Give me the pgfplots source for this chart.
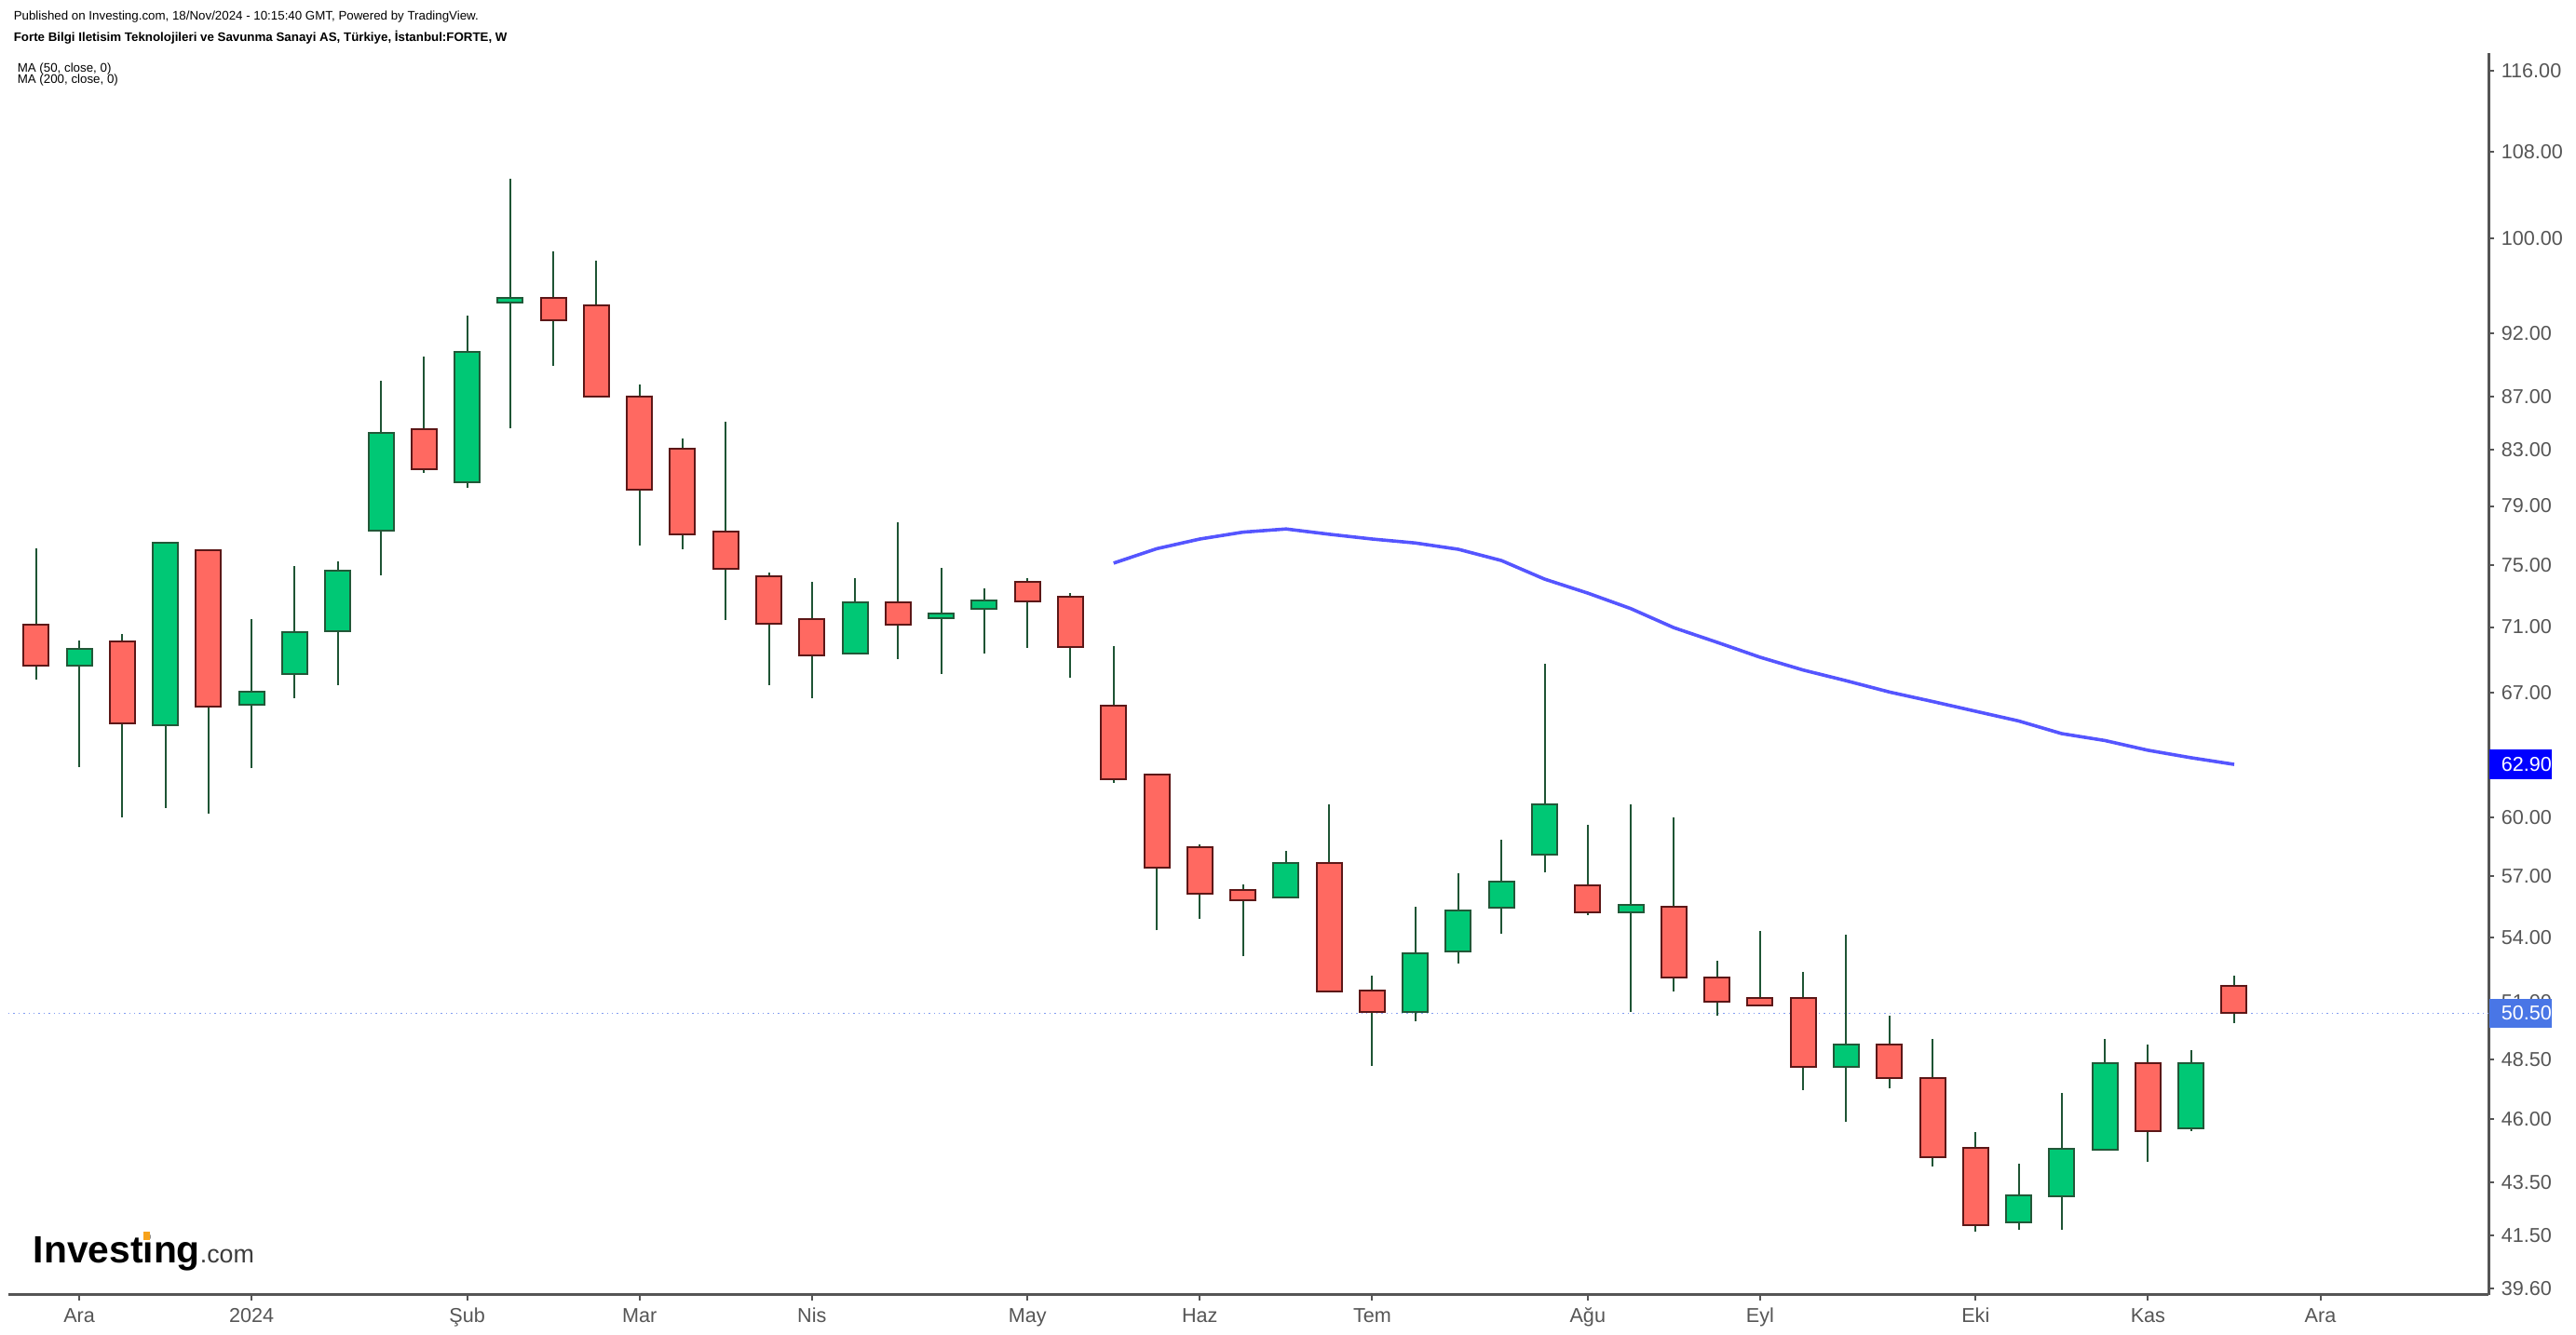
\documentclass[border=0pt]{standalone}
\usepackage{fontspec}
\setmainfont{Liberation Sans}
\usepackage{pgfplots}
\usepackage{pgfplotstable}
\pgfplotsset{compat=1.18}

\definecolor{upfill}{RGB}{0,200,117}
\definecolor{upedge}{RGB}{34,88,56}
\definecolor{downfill}{RGB}{255,105,97}
\definecolor{downedge}{RGB}{92,23,23}
\definecolor{wick}{RGB}{30,84,52}
\definecolor{maline}{RGB}{85,85,255}
\definecolor{axisgray}{RGB}{85,85,85}
\definecolor{lastblue}{RGB}{73,118,230}
\definecolor{mablue}{RGB}{0,0,255}
\definecolor{pline}{RGB}{130,155,240}
\definecolor{logoorange}{RGB}{247,162,27}
\definecolor{logogray}{RGB}{60,60,60}

\newcommand\tickfont{\fontsize{5.4pt}{6pt}\selectfont}
\newcommand\headfont{\fontsize{3.33pt}{4pt}\selectfont}

% weekly candles, FORTE (i = week number, 0 = 27 Nov 2023)
\pgfplotstableread{
i O H L C
0 71.15 76.13 67.79 68.65
1 68.65 70.16 62.77 69.66
2 70.13 70.59 60.03 65.21
3 65.09 76.49 60.53 76.49
4 75.98 75.98 60.23 66.19
5 66.30 71.53 62.67 67.09
6 68.13 74.91 66.69 70.68
7 70.77 75.25 67.48 74.62
8 77.32 88.24 74.31 84.24
9 84.52 90.13 81.33 81.60
10 80.69 93.44 80.25 90.51
11 94.57 105.46 84.59 94.93
12 94.93 98.93 89.42 93.08
13 94.29 98.11 87.00 87.00
14 87.03 87.94 76.29 80.15
15 83.12 83.86 76.04 77.07
16 77.23 85.08 71.45 74.72
17 74.25 74.53 67.48 71.24
18 71.51 73.91 66.69 69.27
19 69.39 74.15 69.39 72.56
20 72.56 77.90 69.05 71.13
21 71.59 74.78 68.13 71.87
22 72.17 73.45 69.36 72.68
23 73.88 74.15 69.71 72.66
24 72.92 73.17 67.90 69.75
25 66.22 69.81 61.89 62.09
26 62.33 62.33 54.33 57.41
27 58.45 58.60 54.87 56.10
28 56.29 56.58 53.11 55.81
29 55.92 58.29 55.92 57.68
30 57.68 60.73 51.49 51.49
31 51.51 52.22 48.20 50.57
32 50.57 55.50 50.14 53.24
33 53.31 57.15 52.76 55.29
34 55.45 58.87 54.15 56.74
35 58.07 68.72 57.17 60.70
36 56.55 59.65 55.08 55.18
37 55.18 60.73 50.55 55.55
38 55.48 60.05 51.46 52.10
39 52.10 52.91 50.38 51.00
40 51.17 54.31 50.83 50.83
41 51.17 52.39 47.19 48.15
42 48.15 54.13 45.87 49.11
43 49.11 50.38 47.25 47.68
44 47.68 49.37 44.11 44.48
45 44.86 45.48 41.66 41.88
46 42.00 44.23 41.72 43.00
47 42.98 47.07 41.72 44.80
48 44.78 49.37 44.78 48.31
49 48.31 49.14 44.31 45.52
50 45.61 48.88 45.52 48.31
51 51.75 52.22 50.05 50.50
}\candles

% MA(50, close)
\pgfplotstableread{
i ma
25 75.13
26 76.09
27 76.74
28 77.21
29 77.43
30 77.07
31 76.74
32 76.48
33 76.05
34 75.30
35 74.07
36 73.17
37 72.17
38 70.96
39 70.06
40 69.14
41 68.36
42 67.72
43 67.05
44 66.49
45 65.92
46 65.36
47 64.63
48 64.24
49 63.69
50 63.27
51 62.90
}\madata

% candle parts drawn as vertical quiver segments (y is ln of price)
\pgfplotsset{
  body/.style={-, line cap=butt, quiver={u=0, v={ln(\thisrow{C})-ln(\thisrow{O})}}},
  rim/.style={body, line width=7.25pt, shorten <=-0.25pt, shorten >=-0.25pt},
  core/.style={body, line width=6.25pt, shorten <=0.25pt, shorten >=0.25pt},
}

\begin{document}
\begin{tikzpicture}
\useasboundingbox (0,0) rectangle (691.5pt,358.5pt);
% price axis is logarithmic: everything is plotted as ln(price)
\begin{axis}[
  at={(2.25pt,10.75pt)}, anchor=south west, scale only axis,
  width=665.75pt, height=333.5pt,
  xmin=-0.644, xmax=56.9, ymin=3.67343, ymax=4.76903,
  axis x line=bottom, axis y line=right,
  axis line style={-, draw=axisgray, line width=0.75pt},
  tick align=outside, major tick length=1.5pt,
  tick style={draw=axisgray, line width=0.5pt},
  xtick={1,5,10,14,18,23,27,31,36,40,45,49,53},
  xticklabels={Ara,2024,Şub,Mar,Nis,May,Haz,Tem,Ağu,Eyl,Eki,Kas,Ara},
  ytick={3.678829,3.725693,3.772761,3.828641,3.881564,3.931826,3.988984,4.043051,4.094345,4.204693,4.262680,4.317488,4.369448,4.418841,4.465908,4.521789,4.605170,4.682131,4.753590},
  yticklabels={39.60,41.50,43.50,46.00,48.50,51.00,54.00,57.00,60.00,67.00,71.00,75.00,79.00,83.00,87.00,92.00,100.00,108.00,116.00},
  ticklabel style={font=\tickfont, text=axisgray, inner sep=0pt},
  xticklabel style={anchor=base},
  yticklabel style={anchor=west},
  xticklabel shift=5.9pt, yticklabel shift=1.75pt,
  unbounded coords=discard,
]
% last close line (ln 50.50)
\addplot[pline, line width=0.35pt, densely dotted] coordinates {(-0.644,3.921973) (56.9,3.921973)};

% wicks
\addplot[draw=wick, line width=0.5pt, -, line cap=butt,
  quiver={u=0, v={ln(\thisrow{H})-ln(\thisrow{L})}}]
  table[x=i, y expr={ln(\thisrow{L})}] {\candles};

% rising weeks
\addplot[draw=upedge, rim]
  table[x=i, y expr={\thisrow{C}>=\thisrow{O} ? ln(\thisrow{O}) : nan}] {\candles};
\addplot[draw=upfill, core]
  table[x=i, y expr={\thisrow{C}>=\thisrow{O} ? ln(\thisrow{O}) : nan}] {\candles};
% falling weeks
\addplot[draw=downedge, rim]
  table[x=i, y expr={\thisrow{C}<\thisrow{O} ? ln(\thisrow{O}) : nan}] {\candles};
\addplot[draw=downfill, core]
  table[x=i, y expr={\thisrow{C}<\thisrow{O} ? ln(\thisrow{O}) : nan}] {\candles};

\addplot[maline, line width=0.9pt] table[x=i, y expr={ln(\thisrow{ma})}] {\madata};

\coordinate (lbl62) at (axis cs:56.9,4.141547);
\coordinate (lbl50) at (axis cs:56.9,3.921973);
\end{axis}

% last value labels on the price scale
\node[anchor=west, fill=mablue, text=white, inner sep=0pt, minimum height=8pt, font=\tickfont]
  at (lbl62) {\hspace{3.25pt}62.90\hspace{2.25pt}};
\node[anchor=west, fill=lastblue, text=white, inner sep=0pt, minimum height=7.8pt, font=\tickfont]
  at (lbl50) {\hspace{3.25pt}50.50\hspace{2.25pt}};

% header
\node[anchor=base west, inner sep=0pt, font=\headfont] at (3.5pt,353.1pt)
  {Published on Investing.com, 18/Nov/2024 - 10:15:40 GMT, Powered by TradingView.};
\node[anchor=base west, inner sep=0pt, font=\headfont\bfseries] at (3.5pt,347.3pt)
  {Forte Bilgi Iletisim Teknolojileri ve Savunma Sanayi AS, Türkiye, İstanbul:FORTE, W};
\node[anchor=base west, inner sep=0pt, font=\headfont] at (4.5pt,339pt) {MA (50, close, 0)};
\node[anchor=base west, inner sep=0pt, font=\headfont] at (4.5pt,336pt) {MA (200, close, 0)};

% logo
\node[anchor=base west, inner sep=0pt] at (8.75pt,19.25pt)
  {\fontsize{10.2pt}{12pt}\selectfont\bfseries Investing{\fontsize{6.7pt}{8pt}\selectfont\mdseries\color{logogray}.com}};
\fill[logoorange] (38.6pt,25.6pt) rectangle (40.2pt,27.7pt);
\end{tikzpicture}
\end{document}
